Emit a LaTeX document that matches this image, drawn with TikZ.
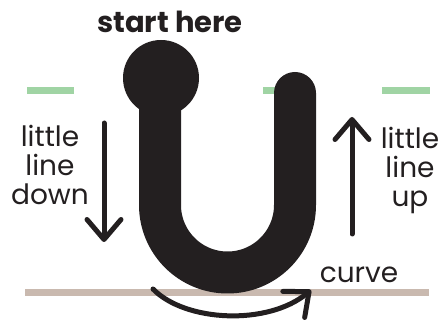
\documentclass[tikz,border=0pt]{standalone}
\usepackage{fontspec}
\setmainfont{Poppins}
\usetikzlibrary{arrows.meta}
\definecolor{InkBlack}{HTML}{231F20}
\definecolor{GuideGreen}{HTML}{A0D4A4}
\definecolor{GroundTan}{HTML}{C9B9AF}

\begin{document}
\begin{tikzpicture}[x=1pt,y=-1pt,
  letter/.style={draw=InkBlack,line width=42pt,line cap=round,line join=round},
  guide/.style={GuideGreen,line width=7pt},
  ground/.style={GroundTan,line width=7pt},
  hint/.style={InkBlack,line width=5pt,line cap=round,line join=round,-{Straight Barb[length=20pt,width=34pt,round]}},
  note/.style={InkBlack,align=center,inner sep=0pt,font=\fontsize{28}{29}\selectfont},
]
\useasboundingbox (0,0) rectangle (445,323);
% guide lines
\draw[guide] (27,90.5) -- (74,90.5);
\draw[guide] (263,90.5) -- (290,90.5);
\draw[guide] (382,90.5) -- (430,90.5);
\draw[ground] (25,292.5) -- (429,292.5);
% the letter
\draw[letter] (160,80) -- (160,205) arc (180:0:67.5) -- (295,93);
\fill[InkBlack] (161,78) circle (38);
% labels
\node[note,font=\fontsize{29}{30}\bfseries,anchor=base] (start) at (170,33) {start here};
\node[note,anchor=base] (downnote) at (50,205) {little\\line\\down};
\node[note,anchor=base] (upnote) at (410,207) {little\\line\\up};
\node[note,anchor=base] (curvenote) at (359,283) {curve};
% arrows
\coordinate (downtop) at (104,123);
\coordinate (downend) at (104,242);
\coordinate (uptop) at (352,117);
\coordinate (upend) at (352,234);
\coordinate (curvebeg) at (153,289);
\coordinate (curveend) at (311,290);
\draw[hint] (downtop) -- (downend);
\draw[hint] (upend) -- (uptop);
\draw[hint] (curvebeg) .. controls (185,322) and (268,326) .. (curveend);
\end{tikzpicture}
\end{document}
